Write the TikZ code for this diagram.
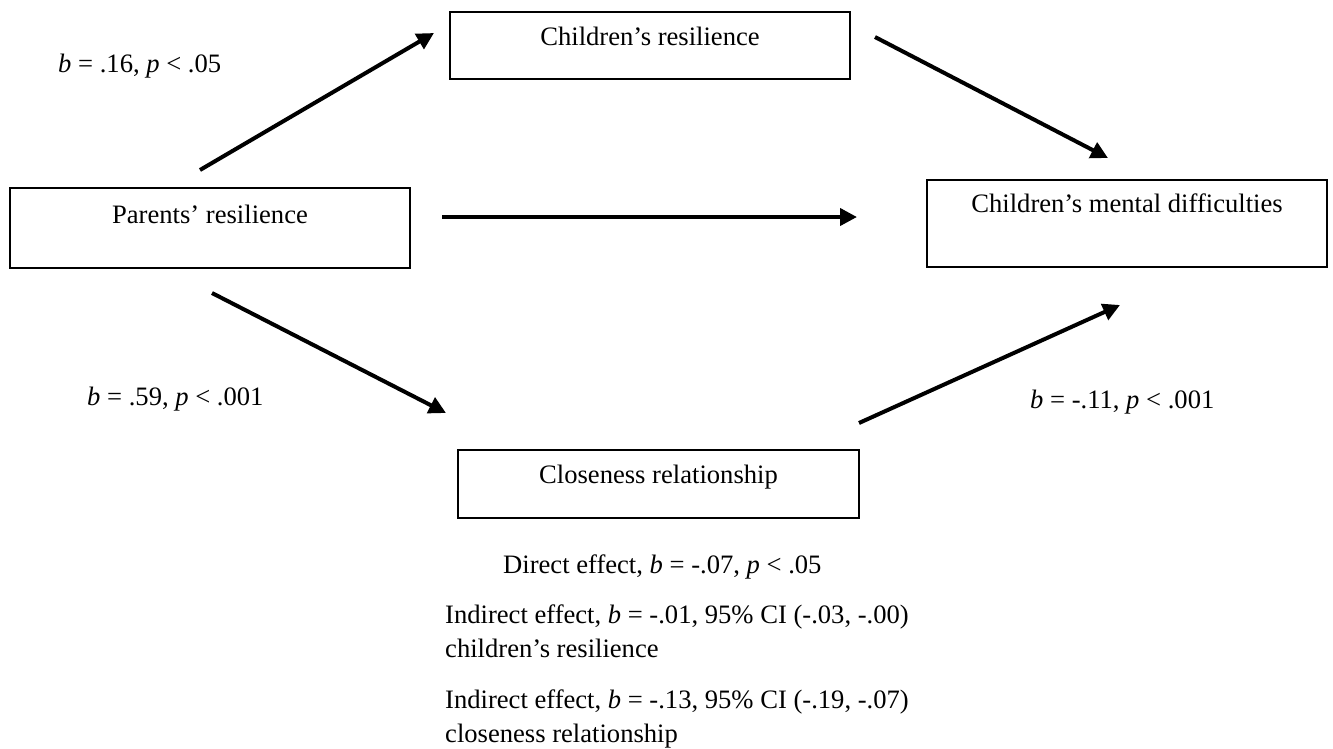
\documentclass[tikz,border=0pt]{standalone}
\usepackage{fontspec}
\setmainfont{Liberation Serif}
\usetikzlibrary{arrows.meta}
\tikzset{
  box/.style={draw=black, line width=1.3pt, rectangle, inner sep=0pt},
  boxtext/.style={anchor=base, inner sep=0pt},
  freetext/.style={anchor=base west, inner sep=0pt},
  conn/.style={line width=4pt, -{Triangle[length=17pt,width=17pt]}},
}
\begin{document}
\begin{tikzpicture}[x=1pt, y=-1pt, font=\fontsize{26.6pt}{32pt}\selectfont]
\path[use as bounding box] (0,0) rectangle (1333,748);
% boxes
\node[box, minimum width=400pt, minimum height=80pt] (par) at (210,228) {};
\node[box, minimum width=400pt, minimum height=67pt] (cres) at (650,45.5) {};
\node[box, minimum width=400pt, minimum height=87pt] (cmd) at (1127,223.5) {};
\node[box, minimum width=401pt, minimum height=68pt] (clo) at (658.5,484) {};
% box texts
\node[boxtext] (parT) at ([yshift=-36pt]par.north) {Parents’ resilience};
\node[boxtext] (cresT) at ([yshift=-34pt]cres.north) {Children’s resilience};
\node[boxtext] (cmdT) at ([yshift=-33pt]cmd.north) {Children’s mental difficulties};
\node[boxtext] (cloT) at ([yshift=-34pt]clo.north) {Closeness relationship};
% connector ends
\coordinate (a1s) at (200,170);  \coordinate (a1e) at (434,33);
\coordinate (a2s) at (875,37);   \coordinate (a2e) at (1108,158);
\coordinate (a3s) at (442,217);  \coordinate (a3e) at (857,217);
\coordinate (a4s) at (212,293);  \coordinate (a4e) at (446,413);
\coordinate (a5s) at (859,423);  \coordinate (a5e) at (1120,305);
\draw[conn] (a1s) -- (a1e);
\draw[conn] (a2s) -- (a2e);
\draw[conn] (a3s) -- (a3e);
\draw[conn] (a4s) -- (a4e);
\draw[conn] (a5s) -- (a5e);
% path labels
\node[freetext] (l1) at (58,72) {\textit{b} = .16, \textit{p} < .05};
\node[freetext] (l2) at (87,405) {\textit{b} = .59, \textit{p} < .001};
\node[freetext] (l3) at (1030,408) {\textit{b} = -.11, \textit{p} < .001};
% effects
\node[freetext] (dir) at (503,573) {Direct effect, \textit{b} = -.07, \textit{p} < .05};
\node[freetext] (ind1) at (445,623) {Indirect effect, \textit{b} = -.01, 95\% CI (-.03, -.00)};
\node[freetext] (ind1b) at (445,657) {children’s resilience};
\node[freetext] (ind2) at (445,708) {Indirect effect, \textit{b} = -.13, 95\% CI (-.19, -.07)};
\node[freetext] (ind2b) at (445,742) {closeness relationship};
\end{tikzpicture}
\end{document}
